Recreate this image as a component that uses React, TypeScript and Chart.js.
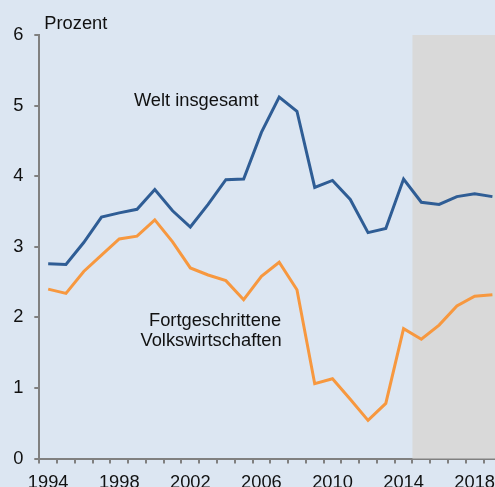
import { useEffect, useRef } from 'react';
import { Chart, registerables } from 'chart.js';

Chart.register(...registerables);

const years = [
  '1994', '1995', '1996', '1997', '1998', '1999', '2000', '2001', '2002', '2003',
  '2004', '2005', '2006', '2007', '2008', '2009', '2010', '2011', '2012', '2013',
  '2014', '2015', '2016', '2017', '2018', '2019',
];
const weltInsgesamt = [
  2.76, 2.75, 3.06, 3.42, 3.48, 3.53, 3.81, 3.51, 3.28, 3.60,
  3.95, 3.96, 4.62, 5.12, 4.92, 3.84, 3.94, 3.67, 3.20, 3.26,
  3.96, 3.63, 3.60, 3.71, 3.75, 3.71,
];
const fortgeschrittene = [
  2.40, 2.34, 2.65, 2.88, 3.11, 3.15, 3.38, 3.07, 2.70, 2.60,
  2.52, 2.25, 2.58, 2.78, 2.39, 1.06, 1.13, 0.84, 0.54, 0.78,
  1.84, 1.69, 1.89, 2.16, 2.30, 2.32,
];
const labeledYears = ['1994', '1998', '2002', '2006', '2010', '2014', '2018'];
const forecastFrom = '2015';
const yMin = 0;
const yMax = 6;
const yUnit = 'Prozent';
const seriesNames = ['Welt insgesamt', 'Fortgeschrittene Volkswirtschaften'];

const FONT = '"Liberation Sans", Arial, sans-serif';
const FS = 18.3;
const BG = '#dce6f2';
const SHADE = '#d9d9d9';
const AXIS = '#808080';
const TEXT = '#111111';
const BLUE = '#2f5d95';
const ORANGE = '#f7983f';

const CW = 520;
const CH = 500;

const decorPlugin = {
  id: 'decor',
  beforeDraw(chart: any) {
    const { ctx } = chart;
    ctx.save();
    ctx.fillStyle = BG;
    ctx.fillRect(0, 0, chart.width, chart.height);
    ctx.restore();
  },
  beforeDatasetsDraw(chart: any) {
    const { ctx, chartArea } = chart;
    const xs = chart.scales.x;
    const i = years.indexOf(forecastFrom);
    const x0 = (xs.getPixelForValue(i - 1) + xs.getPixelForValue(i)) / 2;
    ctx.save();
    ctx.fillStyle = SHADE;
    ctx.fillRect(x0, chartArea.top, chartArea.right - x0 + 20, chartArea.bottom - chartArea.top);
    ctx.restore();
  },
  afterDraw(chart: any) {
    const { ctx, chartArea } = chart;
    const xs = chart.scales.x;
    const ys = chart.scales.y;
    ctx.save();
    ctx.fillStyle = TEXT;
    ctx.font = `${FS}px ${FONT}`;
    ctx.textBaseline = 'alphabetic';
    ctx.textAlign = 'left';
    ctx.fillText(yUnit, chartArea.left + 5, chartArea.top - 6);

    ctx.textAlign = 'center';
    ctx.fillText(seriesNames[0], xs.getPixelForValue(8.33), ys.getPixelForValue(4.99));

    const parts = ['Fortgeschrittene', 'Volkswirtschaften'];
    const xc = xs.getPixelForValue(9.28);
    ctx.fillText(parts[0], xc + 2, ys.getPixelForValue(1.878));
    ctx.fillText(parts[1], xc - 2, ys.getPixelForValue(1.595));
    ctx.restore();
  },
};

export default function App() {
  const ref = useRef<HTMLCanvasElement>(null);

  useEffect(() => {
    const canvas = ref.current!;
    const chart = new Chart(canvas, {
      type: 'line',
      data: {
        labels: years,
        datasets: [
          {
            label: seriesNames[0],
            data: weltInsgesamt,
            borderColor: BLUE,
            backgroundColor: BLUE,
            borderWidth: 3,
            pointRadius: 0,
            tension: 0,
            fill: false,
          },
          {
            label: seriesNames[1],
            data: fortgeschrittene,
            borderColor: ORANGE,
            backgroundColor: ORANGE,
            borderWidth: 3,
            pointRadius: 0,
            tension: 0,
            fill: false,
          },
        ],
      },
      options: {
        responsive: false,
        animation: false,
        devicePixelRatio: 1,
        layout: { padding: { top: 35, left: 0, right: CW - 501.3, bottom: 0 } },
        plugins: {
          legend: { display: false },
          tooltip: { enabled: false },
          title: { display: false },
        },
        scales: {
          x: {
            type: 'category',
            offset: true,
            grid: {
              offset: true,
              drawOnChartArea: false,
              drawTicks: true,
              tickLength: 5,
              color: AXIS,
              lineWidth: 2,
            },
            border: { display: true, color: AXIS, width: 2 },
            ticks: {
              autoSkip: false,
              maxRotation: 0,
              minRotation: 0,
              padding: 8,
              color: TEXT,
              font: { family: FONT, size: FS },
              callback: (_v: any, idx: number) =>
                labeledYears.includes(years[idx]) ? years[idx] : '',
            },
            afterFit: (scale: any) => {
              scale.height = CH - 458.5;
            },
          },
          y: {
            type: 'linear',
            min: yMin,
            max: yMax,
            grid: {
              drawOnChartArea: false,
              drawTicks: true,
              tickLength: 5,
              color: AXIS,
              lineWidth: 2,
            },
            border: { display: true, color: AXIS, width: 2 },
            ticks: {
              stepSize: 1,
              padding: 11,
              color: TEXT,
              font: { family: FONT, size: FS },
            },
            afterFit: (scale: any) => {
              scale.width = 39.3;
            },
          },
        },
      },
      plugins: [decorPlugin],
    });
    return () => chart.destroy();
  }, []);

  return (
    <div
      style={{
        position: 'fixed',
        left: 0,
        top: 0,
        width: 495,
        height: 487,
        overflow: 'hidden',
        background: BG,
      }}
    >
      <canvas ref={ref} width={CW} height={CH} style={{ width: CW, height: CH, display: 'block' }} />
    </div>
  );
}
